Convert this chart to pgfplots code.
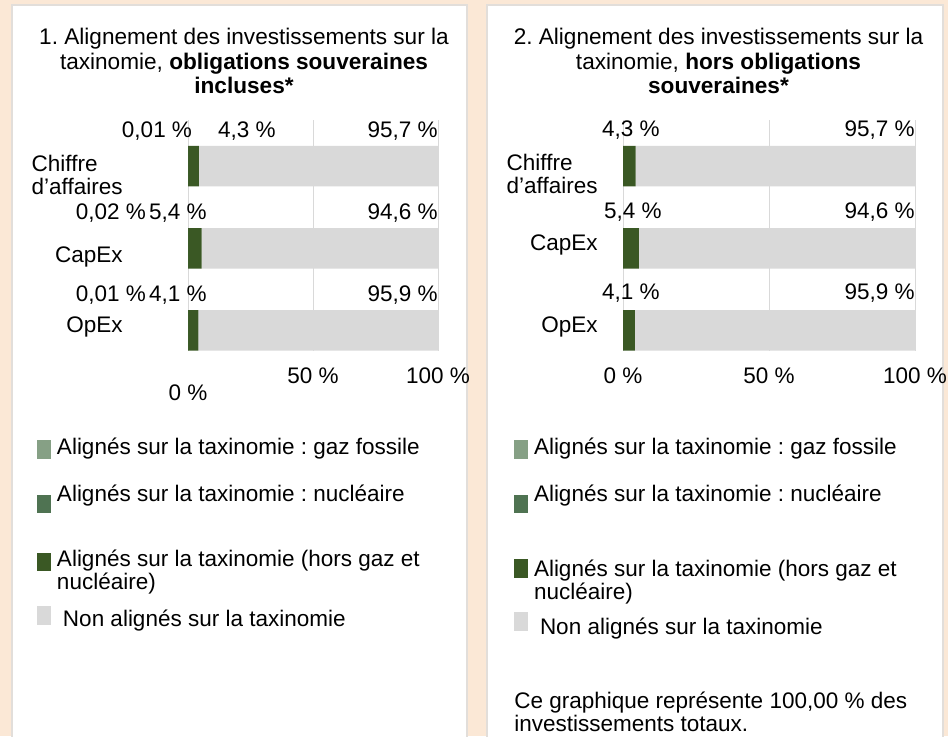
\documentclass[border=0pt]{standalone}
\usepackage{fontspec}
\setmainfont{Liberation Sans}
\usepackage{pgfplots}
\pgfplotsset{compat=1.18}
\frenchspacing
\definecolor{bgpeach}{RGB}{251,232,214}
\definecolor{panelborder}{RGB}{226,222,218}
\definecolor{gazcol}{RGB}{134,160,133}
\definecolor{nuccol}{RGB}{79,115,82}
\definecolor{horscol}{RGB}{58,88,36}
\definecolor{noncol}{RGB}{217,217,217}
\definecolor{gridgray}{RGB}{217,217,217}
\newcommand\lbl{\fontsize{11.25pt}{11.5pt}\selectfont}
\newcommand\ttl{\fontsize{11.3pt}{12.25pt}\selectfont}
\pgfplotsset{
  chartbase/.style={
    anchor=north west, scale only axis, height=115.5pt,
    xbar stacked, bar width=20.25pt,
    xmin=0, xmax=100, ymin=-0.56, ymax=2.25, y dir=reverse,
    axis line style={draw=none}, major tick length=0pt,
    xtick={0,50,100},
    xmajorgrids, grid style={color=gridgray, line width=0.5pt},
    yticklabel style={align=left, anchor=east, inner sep=0pt, font=\lbl},
    xticklabel style={anchor=base, inner sep=0pt, yshift=-16pt, font=\lbl},
    clip=false,
    legend style={draw=none, fill=none, inner sep=0pt, outer sep=0pt,
      row sep=0pt, column sep=1pt, font=\lbl,
      cells={anchor=base west, align=left, inner sep=0pt}},
  },
}
\begin{document}
\begin{tikzpicture}
\begin{scope}[x=0.5pt,y=-0.5pt]
\useasboundingbox (0,0) rectangle (948,736);
\fill[bgpeach] (0,0) rectangle (948,736);
\fill[white] (12,5) rectangle (467,736);
\draw[panelborder, line width=1pt] (12,737) -- (12,5) -- (467,5) -- (467,737);
\fill[white] (487,5) rectangle (943,736);
\draw[panelborder, line width=1pt] (487,737) -- (487,5) -- (943,5) -- (943,737);
\node[anchor=north, align=center, inner sep=0pt, font=\ttl] at (244,28)
  {1. Alignement des investissements sur la\\taxinomie, \textbf{obligations souveraines}\\\textbf{incluses*}};
\node[anchor=north, align=center, inner sep=0pt, font=\ttl] at (718.5,28)
  {2. Alignement des investissements sur la\\taxinomie, \textbf{hors obligations}\\\textbf{souveraines*}};
\node[anchor=north west, align=left, inner sep=0pt, font=\lbl] at (514,692)
  {Ce graphique représente 100,00 \% des\\investissements totaux.};
\end{scope}

% ---------- Chart 1 ----------
\begin{axis}[chartbase,
  at={(94pt,-60pt)}, width=125pt,
  xticklabels={{\raisebox{-8.5pt}{0 \%}},{50 \%},{100 \%}},
  ytick={0.11,1.107,1.959},
  yticklabels={{Chiffre\\d’affaires},{CapEx},{OpEx}},
  yticklabel style={xshift=-32.5pt},
  legend style={at={(-0.604,-0.344)}, anchor=north west},
]
\addplot[fill=gazcol, draw=none,
  legend image code/.code={\fill[gazcol] (0pt,-2.5pt) rectangle (7pt,7pt);}]
  coordinates {(0,0) (0,1) (0,2)};
\addlegendentry{\rule[-7pt]{0pt}{17pt}Alignés sur la taxinomie : gaz fossile}
\addplot[fill=nuccol, draw=none,
  legend image code/.code={\fill[nuccol] (0pt,-6pt) rectangle (7pt,3pt);}]
  coordinates {(0.01,0) (0.02,1) (0.01,2)};
\addlegendentry{\rule[-7pt]{0pt}{25pt}Alignés sur la taxinomie : nucléaire}
\addplot[fill=horscol, draw=none,
  legend image code/.code={\fill[horscol] (0pt,9pt) rectangle (7pt,18pt);}]
  coordinates {(4.3,0) (5.4,1) (4.1,2)};
\addlegendentry{\rule{0pt}{24.5pt}Alignés sur la taxinomie (hors gaz et\\nucléaire)\rule[-7pt]{0pt}{7pt}}
\addplot[fill=noncol, draw=none,
  legend image code/.code={\fill[noncol] (0pt,0.5pt) rectangle (7pt,10pt);}]
  coordinates {(95.7,0) (94.6,1) (95.9,2)};
\addlegendentry{\rule[-7pt]{0pt}{20pt}\hspace*{3pt}Non alignés sur la taxinomie}
\node[font=\lbl, inner sep=0pt] at (axis cs:-12.4,-0.426) {0,01 \%};
\node[font=\lbl, inner sep=0pt] at (axis cs:23.6,-0.426) {4,3 \%};
\node[font=\lbl, inner sep=0pt, anchor=east] at (axis cs:100,-0.426) {95,7 \%};
\node[font=\lbl, inner sep=0pt] at (axis cs:-30.8,0.572) {0,02 \%};
\node[font=\lbl, inner sep=0pt] at (axis cs:-4,0.572) {5,4 \%};
\node[font=\lbl, inner sep=0pt, anchor=east] at (axis cs:100,0.572) {94,6 \%};
\node[font=\lbl, inner sep=0pt] at (axis cs:-30.8,1.569) {0,01 \%};
\node[font=\lbl, inner sep=0pt] at (axis cs:-4,1.569) {4,1 \%};
\node[font=\lbl, inner sep=0pt, anchor=east] at (axis cs:100,1.569) {95,9 \%};
\end{axis}

% ---------- Chart 2 ----------
\begin{axis}[chartbase,
  at={(311.5pt,-60pt)}, width=146pt,
  xticklabels={{0 \%},{50 \%},{100 \%}},
  ytick={0.097,0.961,1.959},
  yticklabels={{Chiffre\\d’affaires},{CapEx},{OpEx}},
  yticklabel style={xshift=-12.5pt},
  legend style={at={(-0.3733,-0.344)}, anchor=north west},
]
\addplot[fill=gazcol, draw=none,
  legend image code/.code={\fill[gazcol] (0pt,-2.5pt) rectangle (7pt,7pt);}]
  coordinates {(0,0) (0,1) (0,2)};
\addlegendentry{\rule[-7pt]{0pt}{17pt}Alignés sur la taxinomie : gaz fossile}
\addplot[fill=nuccol, draw=none,
  legend image code/.code={\fill[nuccol] (0pt,-6pt) rectangle (7pt,3pt);}]
  coordinates {(0,0) (0,1) (0,2)};
\addlegendentry{\rule[-7pt]{0pt}{25pt}Alignés sur la taxinomie : nucléaire}
\addplot[fill=horscol, draw=none,
  legend image code/.code={\fill[horscol] (0pt,10.5pt) rectangle (7pt,20pt);}]
  coordinates {(4.3,0) (5.4,1) (4.1,2)};
\addlegendentry{\rule{0pt}{29.5pt}Alignés sur la taxinomie (hors gaz et\\nucléaire)\rule[-7pt]{0pt}{7pt}}
\addplot[fill=noncol, draw=none,
  legend image code/.code={\fill[noncol] (0pt,1.5pt) rectangle (7pt,11pt);}]
  coordinates {(95.7,0) (94.6,1) (95.9,2)};
\addlegendentry{\rule[-7pt]{0pt}{19pt}\hspace*{3pt}Non alignés sur la taxinomie}
\node[font=\lbl, inner sep=0pt] at (axis cs:2.7,-0.438) {4,3 \%};
\node[font=\lbl, inner sep=0pt, anchor=east] at (axis cs:100,-0.438) {95,7 \%};
\node[font=\lbl, inner sep=0pt] at (axis cs:3.4,0.56) {5,4 \%};
\node[font=\lbl, inner sep=0pt, anchor=east] at (axis cs:100,0.56) {94,6 \%};
\node[font=\lbl, inner sep=0pt] at (axis cs:2.7,1.545) {4,1 \%};
\node[font=\lbl, inner sep=0pt, anchor=east] at (axis cs:100,1.545) {95,9 \%};
\end{axis}
\end{tikzpicture}
\end{document}
